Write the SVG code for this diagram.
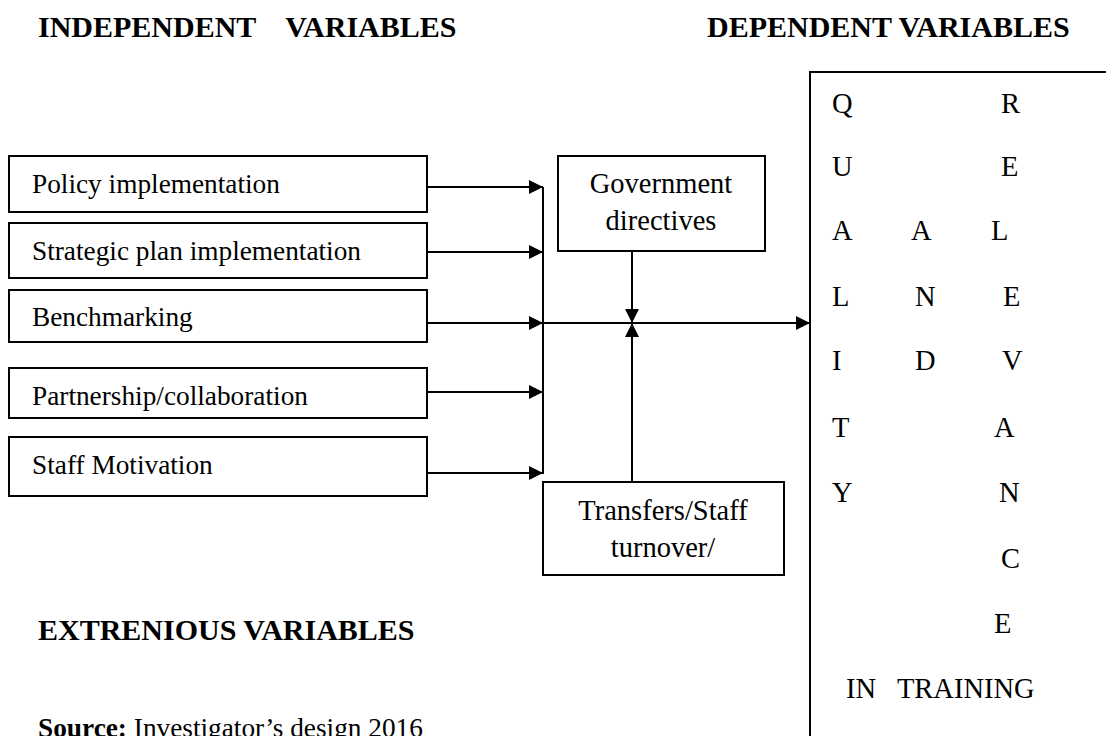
<svg xmlns="http://www.w3.org/2000/svg" width="1106" height="736" viewBox="0 0 1106 736">
<style>
.box{fill:#fff;stroke:#000;stroke-width:2}
.t{font-family:"Liberation Serif","Times New Roman",serif;font-size:27.3px;fill:#000}
.tm{font-family:"Liberation Serif","Times New Roman",serif;font-size:28.5px;fill:#000;text-anchor:middle}
.h{font-family:"Liberation Serif","Times New Roman",serif;font-size:30px;font-weight:bold;fill:#000;white-space:pre}
.l{font-family:"Liberation Serif","Times New Roman",serif;font-size:28.5px;fill:#000;white-space:pre}
.c{fill:none;stroke:#000;stroke-width:2}
</style>
<defs>
<marker id="ah" viewBox="0 0 14 14" markerUnits="userSpaceOnUse" markerWidth="14" markerHeight="14" refX="14" refY="7" orient="auto">
<path d="M0,0 L14,7 L0,14 z" fill="#000"/>
</marker>
</defs>
<rect width="1106" height="736" fill="#fff"/>
<text class="h" x="38" y="37">INDEPENDENT    VARIABLES</text>
<text class="h" x="707" y="37">DEPENDENT VARIABLES</text>
<text class="h" x="38" y="640">EXTRENIOUS VARIABLES</text>
<text class="t" x="38" y="737"><tspan font-weight="bold">Source:</tspan> Investigator’s design 2016</text>

<g id="policy"><rect class="box" x="9" y="156" width="418" height="56"/><text class="t" x="32" y="193">Policy implementation</text></g>
<g id="strategic"><rect class="box" x="9" y="223" width="418" height="55"/><text class="t" x="32" y="260">Strategic plan implementation</text></g>
<g id="benchmarking"><rect class="box" x="9" y="290" width="418" height="52"/><text class="t" x="32" y="326">Benchmarking</text></g>
<g id="partnership"><rect class="box" x="9" y="368" width="418" height="50"/><text class="t" x="32" y="405">Partnership/collaboration</text></g>
<g id="motivation"><rect class="box" x="9" y="437" width="418" height="59"/><text class="t" x="32" y="474">Staff Motivation</text></g>
<g id="government"><rect class="box" x="558" y="156" width="207" height="95"/><text class="tm" x="661" y="193">Government</text><text class="tm" x="661" y="230">directives</text></g>
<g id="transfers"><rect class="box" x="543" y="482" width="241" height="93"/><text class="tm" x="663" y="520">Transfers/Staff</text><text class="tm" x="663" y="557">turnover/</text></g>
<g id="dependent">
<rect class="box" x="810" y="72" width="330" height="700"/>
<text class="l" x="832" y="113">Q</text><text class="l" x="1001" y="113">R</text>
<text class="l" x="832" y="176">U</text><text class="l" x="1001" y="176">E</text>
<text class="l" x="832" y="240">A</text><text class="l" x="911" y="240">A</text><text class="l" x="991" y="240">L</text>
<text class="l" x="832" y="306">L</text><text class="l" x="915" y="306">N</text><text class="l" x="1003" y="306">E</text>
<text class="l" x="832" y="370">I</text><text class="l" x="915" y="370">D</text><text class="l" x="1002" y="370">V</text>
<text class="l" x="832" y="437">T</text><text class="l" x="994" y="437">A</text>
<text class="l" x="832" y="502">Y</text><text class="l" x="999" y="502">N</text>
<text class="l" x="1001" y="568">C</text>
<text class="l" x="994" y="633">E</text>
<text class="l" x="846" y="698">IN   TRAINING</text>
</g>
<g id="connectors">
<path class="c" d="M427,187 H543" marker-end="url(#ah)"/>
<path class="c" d="M427,252 H543" marker-end="url(#ah)"/>
<path class="c" d="M427,323 H543" marker-end="url(#ah)"/>
<path class="c" d="M427,392 H543" marker-end="url(#ah)"/>
<path class="c" d="M427,473 H543" marker-end="url(#ah)"/>
<path class="c" d="M543,187 V474"/>
<path class="c" d="M543,323 H810" marker-end="url(#ah)"/>
<path class="c" d="M632,251 V323" marker-end="url(#ah)"/>
<path class="c" d="M632,482 V323" marker-end="url(#ah)"/>
</g>
</svg>
